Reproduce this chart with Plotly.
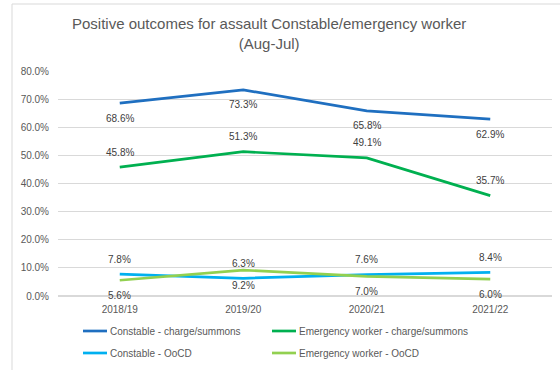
import plotly.graph_objects as go

# Financial years (Aug-Jul)
years = ["2018/19", "2019/20", "2020/21", "2021/22"]

# Positive outcome rates (%)
constable_charge = [68.6, 73.3, 65.8, 62.9]
emergency_charge = [45.8, 51.3, 49.1, 35.7]
constable_oocd = [7.8, 6.3, 7.6, 8.4]
emergency_oocd = [5.6, 9.2, 7.0, 6.0]

series = [
    ("Constable - charge/summons", constable_charge, "#1F6FC0", -15),
    ("Emergency worker - charge/summons", emergency_charge, "#00B050", 15),
    ("Constable - OoCD", constable_oocd, "#00B0F0", 15),
    ("Emergency worker - OoCD", emergency_oocd, "#92D050", -15),
]

y_ticks = [0, 10, 20, 30, 40, 50, 60, 70, 80]

FONT = "Liberation Sans, Arial, sans-serif"

# Plot area in pixels
W, H = 560, 370
L, R, T, B = 58, 8, 71, 74
PW, PH = W - L - R, H - T - B


def px_x(px):
    return (px - L) / PW


def px_y(py):
    return (H - B - py) / PH


fig = go.Figure()
annotations = []
shapes = []
for name, vals, color, shift in series:
    fig.add_trace(go.Scatter(
        x=years, y=vals, name=name, mode="lines",
        line=dict(color=color, width=2.7),
        hoverinfo="skip", showlegend=False,
    ))
    for yr, v in zip(years, vals):
        annotations.append(dict(
            x=yr, y=v, xref="x", yref="y", text=f"{v:.1f}%",
            showarrow=False, yshift=shift,
            font=dict(family=FONT, size=10, color="#404040"),
        ))

# Legend: two columns, two rows
legend_pos = [(83, 331), (272, 331), (83, 353), (272, 353)]
for (name, _, color, _), (lx, ly) in zip(series, legend_pos):
    shapes.append(dict(
        type="line", xref="paper", yref="paper",
        x0=px_x(lx), x1=px_x(lx + 24), y0=px_y(ly), y1=px_y(ly),
        line=dict(color=color, width=2.7),
    ))
    annotations.append(dict(
        x=px_x(lx + 25), y=px_y(ly), xref="paper", yref="paper",
        xanchor="left", yanchor="middle", text=name, showarrow=False,
        font=dict(family=FONT, size=10, color="#595959"),
    ))

# Title
annotations.append(dict(
    x=px_x(269), y=px_y(33), xref="paper", yref="paper", xanchor="center", yanchor="middle",
    text="Positive outcomes for assault Constable/emergency worker<br>(Aug-Jul)",
    showarrow=False,
    font=dict(family=FONT, size=15, color="#595959"),
))

# Chart-area border
shapes.append(dict(
    type="rect", xref="paper", yref="paper",
    x0=px_x(12), x1=px_x(600), y0=px_y(420), y1=px_y(4),
    line=dict(color="#D9D9D9", width=1), fillcolor="rgba(0,0,0,0)", layer="below",
))

fig.update_layout(
    width=W, height=H,
    margin=dict(l=L, r=R, t=T, b=B),
    paper_bgcolor="white", plot_bgcolor="white",
    annotations=annotations,
    shapes=shapes,
    showlegend=False,
)

fig.update_xaxes(
    type="category", range=[-0.5, 3.5], showgrid=False, showline=False, ticks="",
    ticklabelstandoff=6,
    tickfont=dict(family=FONT, size=10, color="#595959"),
    fixedrange=True,
)
fig.update_yaxes(
    range=[0, 80], tickvals=y_ticks, ticktext=[f"{t:.1f}%" for t in y_ticks],
    showgrid=True, gridcolor="#D9D9D9", gridwidth=1, zeroline=True, zerolinecolor="#D9D9D9",
    showline=False, ticks="", ticklabelstandoff=8,
    tickfont=dict(family=FONT, size=10, color="#595959"),
    fixedrange=True,
)

fig.write_html("out.html")
